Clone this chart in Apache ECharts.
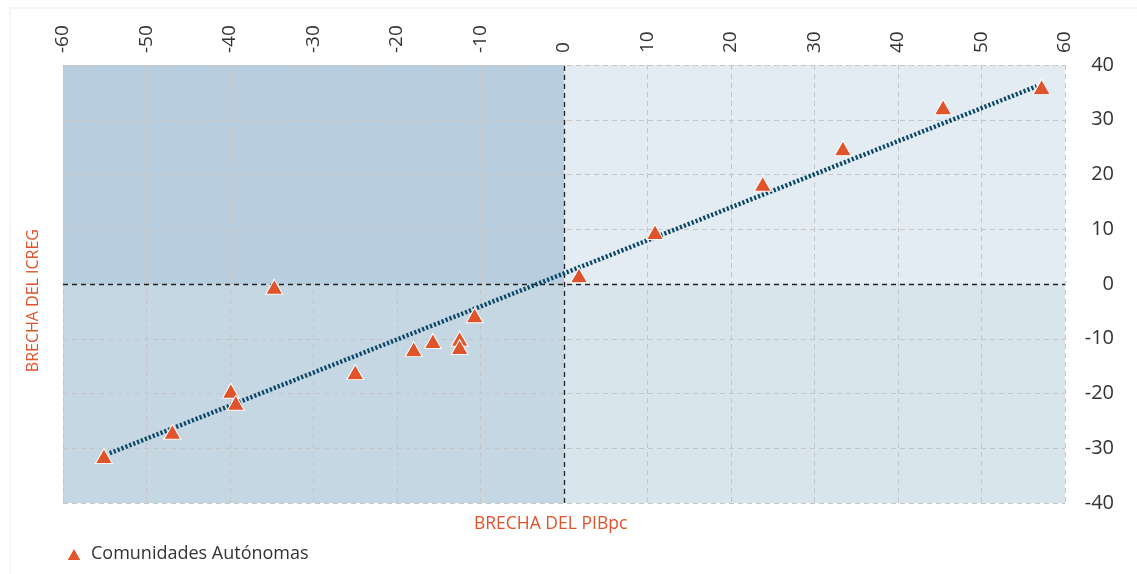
<!DOCTYPE html>
<html>
<head>
<meta charset="utf-8">
<script src="https://cdn.jsdelivr.net/npm/echarts@6/dist/echarts.min.js"></script>
<style>
  html, body { margin: 0; padding: 0; background: #fff; }
  #chart { width: 1137px; height: 574px; }
</style>
</head>
<body>
<div id="chart"></div>
<script>
  // Brecha del PIBpc (x) vs brecha del ICREG (y), por comunidad autónoma
  const pibGap = [-55.1, -46.9, -39.9, -39.3, -34.7, -25.0, -18.0, -15.7, -12.5, -12.5, -10.7, 1.8, 10.9, 23.8, 33.4, 45.4, 57.2];
  const icregGap = [-31.4, -27.0, -19.5, -21.7, -0.5, -16.1, -11.9, -10.4, -10.0, -11.5, -5.7, 1.6, 9.5, 18.3, 24.8, 32.3, 36.0];

  // línea de tendencia (extremos)
  const trendX = [-54.4, 56.6];
  const trendY = [-30.9, 36.1];

  const xTicks = [-60, -50, -40, -30, -20, -10, 0, 10, 20, 30, 40, 50, 60];
  const yTicks = [-40, -30, -20, -10, 0, 10, 20, 30, 40];

  const FONT = '"Open Sans", "Noto Sans", sans-serif';
  const ORANGE = '#e0532b';

  function pairs (xs, ys) { return xs.map((x, i) => [x, ys[i]]); }

  const chart = echarts.init(document.getElementById('chart'));

  chart.setOption({
    animation: false,
    textStyle: { fontFamily: FONT },
    grid: { left: 63, right: 72, top: 65, bottom: 71, outerBoundsMode: 'none' },
    graphic: [
      {
        type: 'rect', z: -10, silent: true,
        shape: { x: 10, y: 8, width: 1140, height: 580 },
        style: { fill: 'none', stroke: '#f5f5f5', lineWidth: 2 }
      },
      {
        type: 'text', left: 25, top: 229, rotation: Math.PI / 2,
        style: { text: 'BRECHA DEL ICREG', fill: ORANGE, font: '16px ' + FONT }
      },
      {
        type: 'text', left: 474, top: 515,
        style: { text: 'BRECHA DEL PIBpc', fill: ORANGE, font: '17.5px ' + FONT }
      }
    ],
    legend: {
      left: 60, bottom: 6,
      itemWidth: 16, itemHeight: 14, itemGap: 6,
      textStyle: { color: '#333', fontSize: 18, fontFamily: FONT, padding: [0, 0, 0, 4] },
      data: [{ name: 'Comunidades Autónomas', icon: 'triangle' }]
    },
    xAxis: {
      type: 'value', position: 'top', z: 3,
      min: xTicks[0], max: xTicks[xTicks.length - 1], interval: 10,
      axisLine: { show: false }, axisTick: { show: false },
      axisLabel: { rotate: 90, color: '#333', fontSize: 19, margin: 12 },
      splitLine: { show: true, lineStyle: { color: '#c6c6c6', type: [5, 4], width: 1 } }
    },
    yAxis: {
      type: 'value', position: 'right', z: 3,
      min: yTicks[0], max: yTicks[yTicks.length - 1], interval: 10,
      axisLine: { show: false }, axisTick: { show: false },
      axisLabel: { color: '#333', fontSize: 20, margin: 49, align: 'right' },
      splitLine: { show: true, lineStyle: { color: '#c6c6c6', type: [5, 4], width: 1 } }
    },
    series: [
      {
        // fondos de cuadrantes
        type: 'line', data: [], z: 1, silent: true,
        markArea: {
          silent: true,
          data: [
            [{ coord: [-60, 0], itemStyle: { color: '#b8cddd' } }, { coord: [0, 40] }],
            [{ coord: [-60, -40], itemStyle: { color: '#c5d7e3' } }, { coord: [0, 0] }],
            [{ coord: [0, 0], itemStyle: { color: '#e3ecf3' } }, { coord: [60, 40] }],
            [{ coord: [0, -40], itemStyle: { color: '#d8e5ed' } }, { coord: [60, 0] }]
          ]
        }
      },
      {
        // ejes de cero
        type: 'line', data: [], z: 4, silent: true,
        markLine: {
          silent: true, symbol: 'none', label: { show: false },
          lineStyle: { color: '#222', type: [5, 4], width: 1.3 },
          data: [{ xAxis: 0 }, { yAxis: 0 }]
        }
      },
      {
        name: 'tendencia', type: 'line', z: 5, silent: true,
        data: pairs(trendX, trendY),
        showSymbol: false, symbol: 'none',
        lineStyle: { color: '#0b4868', width: 4.5, type: [2.2, 2] }
      },
      {
        name: 'Comunidades Autónomas', type: 'scatter', z: 6,
        symbol: 'triangle', symbolSize: [17, 15],
        data: pairs(pibGap, icregGap),
        itemStyle: { color: ORANGE, borderColor: '#fff', borderWidth: 1, opacity: 1 }
      }
    ]
  });
</script>
</body>
</html>
